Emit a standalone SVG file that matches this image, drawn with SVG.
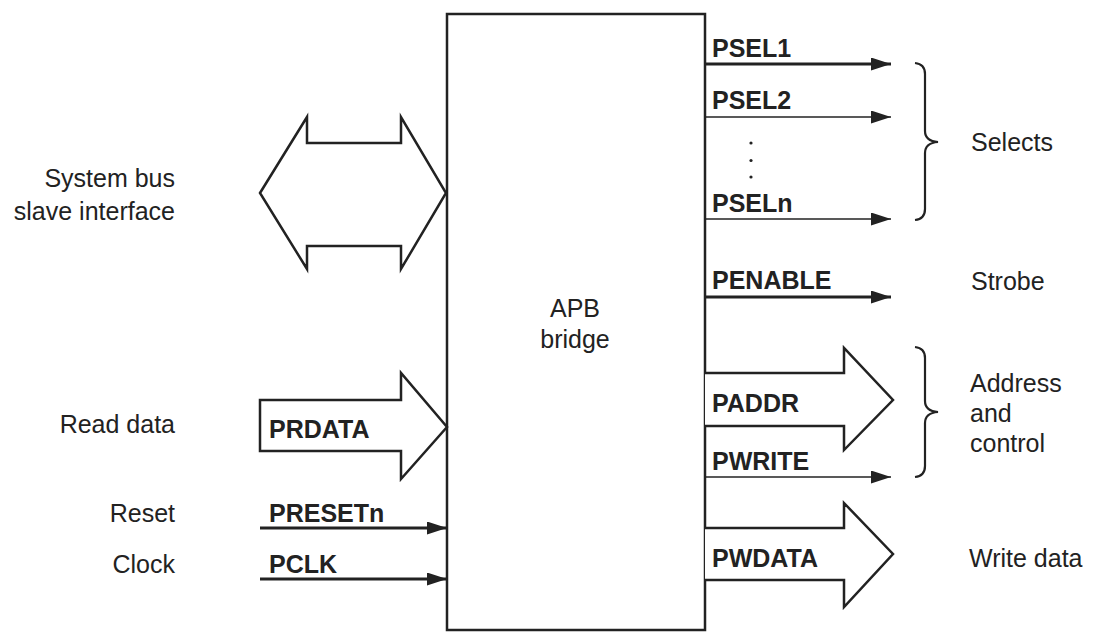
<svg xmlns="http://www.w3.org/2000/svg" width="1099" height="632" viewBox="0 0 1099 632">
<defs>
<style>
.lbl{font-family:"Liberation Sans",Arial,sans-serif;font-size:25px;fill:#222}
.sig{font-family:"Liberation Sans",Arial,sans-serif;font-size:25px;font-weight:bold;fill:#222}
.big{fill:#fff;stroke:#222;stroke-width:2.5;stroke-linejoin:miter}
.thick{stroke:#222;stroke-width:3;fill:none}
.thin{stroke:#222;stroke-width:1.5;fill:none}
.brace{stroke:#222;stroke-width:2.2;fill:none}
</style>
<marker id="ah" markerUnits="userSpaceOnUse" markerWidth="20" markerHeight="13" refX="20" refY="6.5" orient="auto">
<path d="M0,0 L20,6.5 L0,13 z" fill="#222"/>
</marker>
</defs>
<rect width="1099" height="632" fill="#fff"/>

<g id="apb-bridge">
<rect x="447" y="14" width="258" height="616" fill="#fff" stroke="#222" stroke-width="2.5"/>
<text class="lbl" x="575" y="317" text-anchor="middle">APB</text>
<text class="lbl" x="575" y="348" text-anchor="middle">bridge</text>
</g>

<g id="system-bus">
<text class="lbl" x="175" y="187" text-anchor="end">System bus</text>
<text class="lbl" x="175" y="220" text-anchor="end">slave interface</text>
</g>
<g id="read-data"><text class="lbl" x="175" y="433" text-anchor="end">Read data</text></g>
<g id="reset"><text class="lbl" x="175" y="522" text-anchor="end">Reset</text></g>
<g id="clock"><text class="lbl" x="175" y="573" text-anchor="end">Clock</text></g>
<g id="selects"><text class="lbl" x="971" y="151">Selects</text></g>
<g id="strobe"><text class="lbl" x="971" y="290">Strobe</text></g>
<g id="addr-ctrl">
<text class="lbl" x="970" y="392">Address</text>
<text class="lbl" x="970" y="422">and</text>
<text class="lbl" x="970" y="452">control</text>
</g>
<g id="write-data"><text class="lbl" x="969" y="567">Write data</text></g>

<g id="connectors">
<polygon class="big" points="260,193 307,117 307,143 401,143 401,117 446,193 401,269 401,246 307,246 307,269"/>
<polygon class="big" points="260,400 401,400 401,373 447,427 401,479 401,451 260,451"/>
<text class="sig" x="269" y="438">PRDATA</text>

<line class="thick" x1="260" y1="528" x2="447" y2="528" marker-end="url(#ah)"/>
<text class="sig" x="269" y="522">PRESETn</text>
<line class="thick" x1="260" y1="579" x2="447" y2="579" marker-end="url(#ah)"/>
<text class="sig" x="269" y="573">PCLK</text>

<line class="thick" x1="705" y1="64" x2="891" y2="64" marker-end="url(#ah)"/>
<text class="sig" x="712" y="57">PSEL1</text>
<line class="thin" x1="705" y1="117" x2="891" y2="117" marker-end="url(#ah)"/>
<text class="sig" x="712" y="109">PSEL2</text>
<circle cx="751" cy="143" r="1.6" fill="#222"/>
<circle cx="751" cy="160.5" r="1.6" fill="#222"/>
<circle cx="751" cy="177" r="1.6" fill="#222"/>
<line class="thin" x1="705" y1="219" x2="891" y2="219" marker-end="url(#ah)"/>
<text class="sig" x="712" y="212">PSELn</text>
<line class="thick" x1="705" y1="297" x2="891" y2="297" marker-end="url(#ah)"/>
<text class="sig" x="712" y="289">PENABLE</text>

<polyline class="big" points="705,373 844,373 844,348 893,400 844,450 844,426 705,426"/>
<text class="sig" x="712" y="412">PADDR</text>
<line class="thin" x1="705" y1="477" x2="891" y2="477" marker-end="url(#ah)"/>
<text class="sig" x="712" y="470">PWRITE</text>
<polyline class="big" points="705,528 844,528 844,503 893,554 844,607 844,580 705,580"/>
<text class="sig" x="712" y="567">PWDATA</text>

<path class="brace" d="M915,63 Q925,64 925,74 L925,131 Q925,141 938,142 Q925,143 925,153 L925,209 Q925,219 915,220"/>
<path class="brace" d="M915,347 Q925,348 925,358 L925,401 Q925,411 938,412 Q925,413 925,423 L925,466 Q925,476 915,477"/>
</g>
</svg>
